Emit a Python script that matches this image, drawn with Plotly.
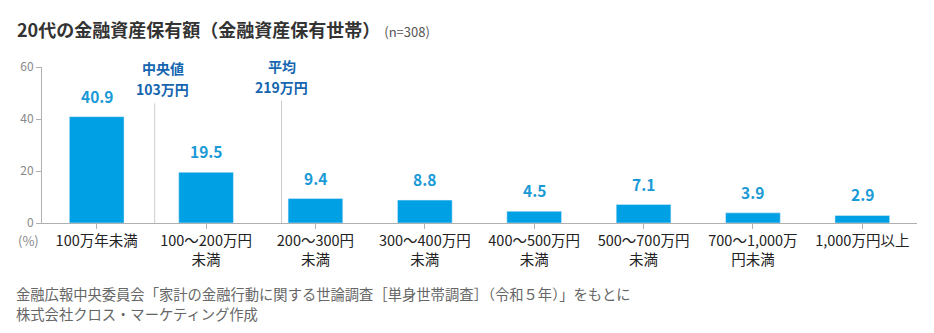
import plotly.graph_objects as go

categories = ["100万年未満", "100～200万円<br>未満", "200～300円<br>未満", "300～400万円<br>未満",
              "400～500万円<br>未満", "500～700万円<br>未満", "700～1,000万<br>円未満", "1,000万円以上"]
values = [40.9, 19.5, 9.4, 8.8, 4.5, 7.1, 3.9, 2.9]
y_ticks = [0, 20, 40, 60]
median_value = 103
mean_value = 219
title = "20代の金融資産保有額（金融資産保有世帯）"
n_label = "(n=308)"
source_lines = ["金融広報中央委員会「家計の金融行動に関する世論調査［単身世帯調査］（令和５年）」をもとに",
                "株式会社クロス・マーケティング作成"]

FONT = "Noto Sans CJK JP, Noto Sans, sans-serif"
BAR = "#00a0e4"
LABEL = "#1a9ad6"
ANN = "#1565b0"
GRAY = "#888888"

x = list(range(len(categories)))

fig = go.Figure(go.Bar(x=x, y=values, marker_color=BAR, width=0.5, hoverinfo="skip"))

for xi, v in zip(x, values):
    fig.add_annotation(x=xi, y=v, text=f"<b>{v}</b>", showarrow=False, yshift=21,
                       font=dict(family=FONT, size=15.5, color=LABEL))

def pos_in_bins(val):
    lo = (val // 100) * 100
    idx = int(val // 100)
    return idx - 0.5 + (val - lo) / 100

xm = pos_in_bins(median_value)
xa = pos_in_bins(mean_value)
fig.add_shape(type="line", x0=xm, x1=xm, y0=0, y1=46.0, line=dict(color="#cccccc", width=1))
fig.add_shape(type="line", x0=xa, x1=xa, y0=0, y1=47.0, line=dict(color="#cccccc", width=1))

ann_font = dict(family=FONT, size=14, color=ANN)
fig.add_annotation(x=xm, y=59.6, text="<b>中央値</b>", showarrow=False, xshift=8, font=ann_font,
                   borderpad=0)
fig.add_annotation(x=xm, y=51.6, text=f"<b>{median_value}万円</b>", showarrow=False, xshift=8,
                   font=ann_font, borderpad=0)
fig.add_annotation(x=xa, y=59.6, yshift=2, text="<b>平均</b>", showarrow=False, font=ann_font,
                   borderpad=0)
fig.add_annotation(x=xa, y=51.6, yshift=2, text=f"<b>{mean_value}万円</b>", showarrow=False,
                   font=ann_font, borderpad=0)

fig.add_annotation(xref="paper", yref="paper", x=-0.016, y=-0.115, xanchor="center", yanchor="middle",
                   text="(%)", showarrow=False, font=dict(family=FONT, size=13, color=GRAY))

fig.add_annotation(xref="paper", yref="paper", x=-0.031, y=1.245, xanchor="left", yanchor="middle",
                   text=f"<b>{title}</b> <span style='font-size:13px;color:#555'>{n_label}</span>",
                   showarrow=False, font=dict(family=FONT, size=18, color="#333333"))

src_font = dict(family=FONT, size=14.3, color="#666666")
for i, line in enumerate(source_lines):
    fig.add_annotation(xref="paper", yref="paper", x=-0.031, y=-0.455 - i * 0.122,
                       xanchor="left", yanchor="middle", align="left", borderpad=0,
                       text=line, showarrow=False, font=src_font)

fig.update_layout(
    width=934, height=333, margin=dict(l=42, r=17, t=67, b=110),
    plot_bgcolor="white", paper_bgcolor="white", showlegend=False,
    font=dict(family=FONT),
    xaxis=dict(tickmode="array", tickvals=x, ticktext=categories, range=[-0.5, len(x) - 0.5],
               showline=True, linecolor="#b0b0b0", ticks="outside", tickson="boundaries",
               ticklen=5, tickcolor="#b0b0b0", showgrid=False,
               tickfont=dict(family=FONT, size=14.5, color="#222222")),
    yaxis=dict(range=[0, 60], tickvals=y_ticks, showline=True, linecolor="#b0b0b0",
               ticks="outside", ticklen=5, tickcolor="#b0b0b0", showgrid=False, zeroline=False,
               tickfont=dict(family=FONT, size=12, color=GRAY)),
)

fig.write_html("out.html")
